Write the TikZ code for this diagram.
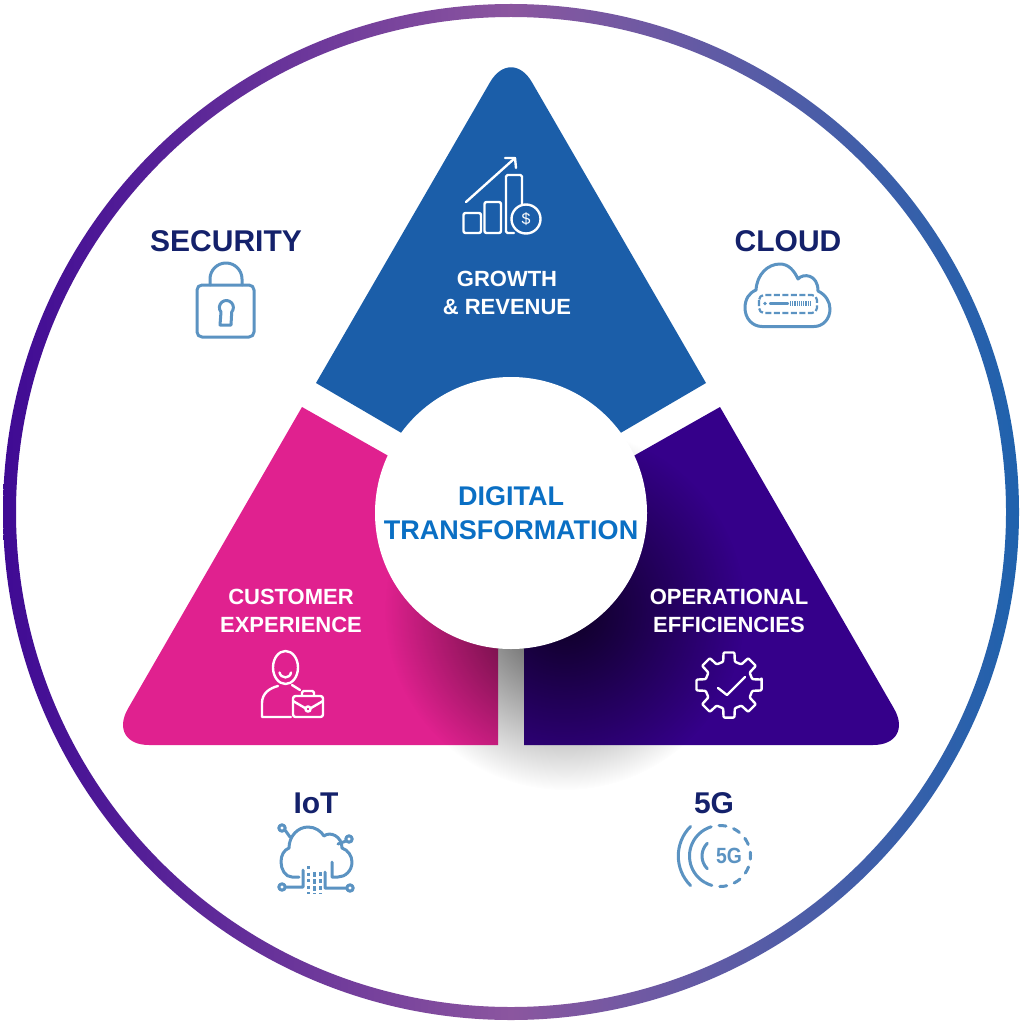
\documentclass[tikz,border=0pt]{standalone}
\usepackage{fontspec}
\setmainfont{Liberation Sans}
\usetikzlibrary{fadings}
\definecolor{triblue}{HTML}{1B5EA9}
\definecolor{tripink}{HTML}{E0218F}
\definecolor{tripurple}{HTML}{35008A}
\definecolor{navytext}{HTML}{14216B}
\definecolor{hubtext}{HTML}{0A6FC4}
\definecolor{iconline}{HTML}{5B93C2}
\definecolor{ringleft}{HTML}{3F0A94}
\definecolor{ringmid}{HTML}{8B569F}
\definecolor{ringright}{HTML}{1F62AD}
\tikzfading[name=softshadow,inner color=transparent!25,outer color=transparent!100]
\tikzset{
  outerlabel/.style={text=navytext,font=\fontsize{30}{34}\selectfont\bfseries,inner sep=0pt},
  trilabel/.style={text=white,align=center,font=\fontsize{22}{28}\selectfont\bfseries,inner sep=0pt},
  iconblue/.style={draw=iconline,line width=3pt,line join=round,line cap=round},
  iconwhite/.style={draw=white,line width=2.4pt,line join=round,line cap=round}
}
\begin{document}
\begin{tikzpicture}[x=1pt,y=-1pt]
\useasboundingbox (0,0) rectangle (1024,1024);
\fill[white] (0,0) rectangle (1024,1024);
\shade[even odd rule,left color=ringleft,right color=ringright,middle color=ringmid]
  (511,512) circle[radius=508] (511,512) circle[radius=495];
\fill[triblue] (316,383) [rounded corners=42pt] -- (511,46) [sharp corners] -- (706,383) -- (511,497) -- cycle;
\fill[tripink] (302,407) -- (498,518) -- (498,745) [rounded corners=42pt] -- (107,745) [sharp corners] -- cycle;
\fill[tripurple] (720,407) -- (524,518) -- (524,745) [rounded corners=42pt] -- (915,745) [sharp corners] -- cycle;
\fill[black,path fading=softshadow] (565,610) circle[radius=180];
\node[circle,fill=white,minimum size=272pt,inner sep=0pt,align=center,text=hubtext,
  font=\fontsize{27}{34}\selectfont\bfseries] (hub) at (511,513) {DIGITAL\\TRANSFORMATION};
\node[trilabel] (growth) at (507,293) {GROWTH\\\& REVENUE};
\node[trilabel] (customer) at (291,611) {CUSTOMER\\EXPERIENCE};
\node[trilabel] (operational) at (729,611) {OPERATIONAL\\EFFICIENCIES};
\node[outerlabel] (security) at (226,241) {SECURITY};
\node[outerlabel] (cloud) at (788,241) {CLOUD};
\node[outerlabel] (iot) at (316,803) {IoT};
\node[outerlabel] (fiveg) at (714,803) {5G};
\begin{scope}[iconwhite]
\draw[rounded corners=2pt] (463.5,213) rectangle (481,233);
\draw[rounded corners=2pt] (484.5,202) rectangle (501,233);
\draw[rounded corners=1.5pt] (514,233) -- (506,233) -- (506,175) -- (522,175) -- (522,205);
\draw (526,219) circle[radius=14.5];
\node[text=white,font=\fontsize{16}{16}\selectfont,inner sep=0pt] (dollar) at (526,219) {\$};
\draw (466,202) -- (515,158);
\draw (505,158) -- (515,158) -- (516,168);
\draw (285.5,667.5) ellipse[x radius=12.5,y radius=16.5];
\draw (279.5,672.5) .. controls (281,679) and (290,679) .. (291,672.5);
\draw (291,717) -- (262,717) -- (262,703) .. controls (262,693) and (270,688) .. (278,686);
\draw (292,685) -- (300,690);
\draw[rounded corners=2.5pt] (293,696) rectangle (323,717);
\draw[rounded corners=1.5pt] (302,696) -- (302,691) -- (314,691) -- (314,696);
\draw (293,701) -- (305,708);
\draw (311,708) -- (323,701);
\draw (308,709) circle[radius=2.6];
\begin{scope}[shift={(729,685)}]
\draw[rounded corners=1pt] (-9.5:33) \foreach \ang in {0,45,...,315}{ -- (\ang-9.5:33) -- (\ang+9.5:33) -- (\ang+14:24) -- (\ang+31:24)} -- cycle;
\draw (-11,3) -- (-2,10) -- (16,-8);
\end{scope}
\end{scope}
\begin{scope}[iconblue]
\draw[rounded corners=5pt] (197,285) rectangle (254,337);
\draw (210,285) -- (210,279) arc[start angle=180,end angle=360,radius=16] -- (242,285);
\draw (220,325) -- (221,312) arc[start angle=140,end angle=400,radius=7] -- (231,325) -- cycle;
\draw (762,326.5) .. controls (752,326.5) and (745,318) .. (745,308) .. controls (745,299) and (749,293) .. (756,290) .. controls (757,274) and (768,264) .. (780,264) .. controls (788,264) and (794,270) .. (798,279) .. controls (803,273) and (818,274) .. (818,291) .. controls (826,295) and (830,302) .. (830,309) .. controls (830,319) and (823,326.5) .. (814,326.5) -- cycle;
\draw[line width=2.2pt,line cap=butt,dash pattern=on 6pt off 2.5pt,rounded corners=5pt] (759,295) rectangle (817,313);
\draw[line width=2.2pt] (770,303.5) -- (788,303.5);
\fill[iconline] (765,303.5) circle[radius=1.8];
\draw[line width=4.5pt,line cap=butt,dash pattern=on 1.2pt off 1pt] (790,303.5) -- (811,303.5);
\draw (299,877) -- (292,877) .. controls (285,877) and (281,869) .. (281,862) .. controls (281,855) and (284,850) .. (289,848) .. controls (289,836) and (298,827) .. (308,827) .. controls (315,827) and (321,831) .. (324,836) .. controls (330,831) and (342,836) .. (342,848) .. controls (348,850) and (352,856) .. (352,862) .. controls (352,871) and (345,877) .. (338,877) -- (332,877) -- (332,862);
\draw (282,887) circle[radius=3.2] (285,887) -- (303,887) -- (303,870);
\draw (350,888) circle[radius=3.2] (347,888) -- (325,888) -- (325,872);
\draw (282,828) circle[radius=3.2] (285,830) -- (290,837);
\draw (349,839) circle[radius=3.2] (346,841) -- (338,844);
\draw[line width=3pt,line cap=butt,dash pattern=on 3pt off 3.5pt] (308,866) -- (308,894);
\draw[line width=3pt,line cap=butt,dash pattern=on 5pt off 2pt] (314,872) -- (314,894);
\draw[line width=3pt,line cap=butt,dash pattern=on 4pt off 3pt] (320,872) -- (320,894);
\draw[dash pattern=on 7pt off 8pt] (720,856) ++(-120:30.5) arc[start angle=-120,end angle=120,radius=30.5];
\draw (720,856) ++(120:30.5) arc[start angle=120,end angle=240,radius=30.5];
\draw (720,856) ++(135:41.7) arc[start angle=135,end angle=225,radius=41.7];
\draw (720,856) ++(135:18) arc[start angle=135,end angle=225,radius=18];
\node[text=iconline,font=\fontsize{22}{22}\selectfont\bfseries,xscale=.88,inner sep=0pt] (fivegmark) at (729,856) {5G};
\end{scope}
\end{tikzpicture}
\end{document}
